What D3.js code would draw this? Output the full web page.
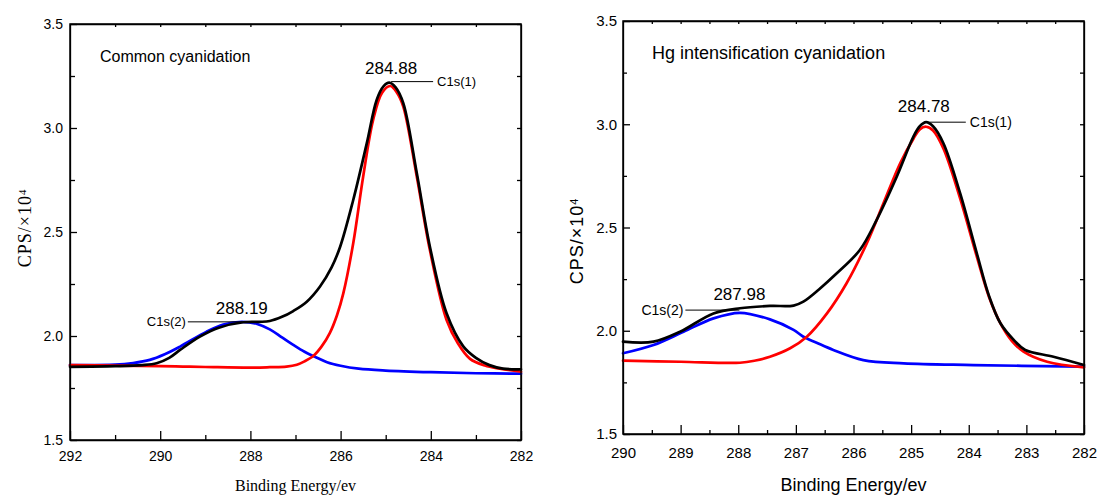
<!DOCTYPE html>
<html>
<head>
<meta charset="utf-8">
<script src="https://cdn.jsdelivr.net/npm/d3@7"></script>
<style>
  body { margin: 0; background: #fff; }
  svg text { fill: #000; }
  .sans { font-family: "Liberation Sans", Arial, sans-serif; }
  .narrow { font-family: "Liberation Sans Narrow", "Arial Narrow", "Liberation Sans", sans-serif; }
  .serif { font-family: "Liberation Serif", "Times New Roman", serif; }
  .axis path, .axis line { stroke: #000; stroke-width: 1.3; }
  .curve { fill: none; stroke-width: 2.7; stroke-linejoin: round; stroke-linecap: round; }
</style>
</head>
<body>
<div id="chart"></div>
<script>
// ---- data (binding energy in eV, CPS x 10^4) ----
var leftBlack = [[292.0,1.852],[291.0,1.855],[290.4,1.860],[290.08,1.869],[289.8,1.895],[289.56,1.933],
  [289.12,1.997],[288.7,2.040],[288.16,2.066],[287.8,2.068],[287.57,2.072],[287.3,2.092],[287.05,2.120],
  [286.75,2.165],[286.46,2.237],[286.2,2.330],[286.01,2.429],[285.72,2.654],[285.42,2.926],[285.20,3.135],
  [285.05,3.200],[284.92,3.218],[284.78,3.195],[284.61,3.119],[284.31,2.782],[284.02,2.429],[283.65,2.109],
  [283.28,1.950],[283.0,1.895],[282.7,1.860],[282.4,1.843],[282.0,1.840]];
var leftRed = [[292.0,1.860],[291.0,1.858],[290.0,1.855],[289.0,1.851],[288.0,1.848],[287.57,1.850],
  [287.2,1.853],[286.97,1.862],[286.8,1.878],[286.60,1.905],[286.42,1.950],[286.24,2.014],[286.08,2.100],
  [285.94,2.205],[285.72,2.446],[285.50,2.766],[285.28,3.038],[285.08,3.170],[284.90,3.202],[284.75,3.170],
  [284.61,3.103],[284.31,2.766],[284.02,2.413],[283.65,2.077],[283.40,1.965],[283.13,1.890],[282.8,1.858],
  [282.47,1.843],[282.0,1.828]];
var leftBlue = [[292.0,1.860],[291.0,1.862],[290.6,1.870],[290.23,1.885],[289.9,1.912],[289.56,1.949],
  [288.97,2.021],[288.6,2.055],[288.19,2.068],[287.85,2.058],[287.57,2.032],[287.3,1.993],[287.05,1.957],
  [286.8,1.924],[286.55,1.898],[286.3,1.874],[286.0,1.857],[285.6,1.843],[285.0,1.834],[284.0,1.826],
  [283.0,1.821],[282.0,1.819]];

var rightBlack = [[290.0,1.947],[289.47,1.947],[289.01,1.995],[288.43,2.084],[287.97,2.109],[287.45,2.120],
  [287.04,2.122],[286.87,2.141],[286.6,2.200],[286.29,2.278],[285.89,2.391],[285.60,2.536],[285.25,2.746],
  [284.96,2.940],[284.85,2.990],[284.74,3.010],[284.62,2.990],[284.44,2.908],[284.15,2.666],[283.86,2.375],
  [283.65,2.170],[283.45,2.036],[283.2,1.950],[283.02,1.907],[282.53,1.874],[282.0,1.834]];
var rightRed = [[290.0,1.855],[289.0,1.850],[287.97,1.845],[287.7,1.856],[287.45,1.874],[287.10,1.915],
  [286.81,1.971],[286.46,2.084],[286.12,2.230],[285.77,2.423],[285.48,2.617],[285.19,2.811],[284.96,2.930],
  [284.85,2.975],[284.74,2.988],[284.62,2.970],[284.44,2.883],[284.15,2.641],[283.86,2.359],[283.65,2.165],
  [283.45,2.036],[283.25,1.950],[283.05,1.899],[282.64,1.850],[282.0,1.823]];
var rightBlue = [[290.0,1.891],[289.47,1.931],[288.95,1.995],[288.43,2.060],[287.97,2.087],[287.45,2.055],
  [287.04,2.004],[286.87,1.971],[286.64,1.942],[286.35,1.907],[285.83,1.858],[285.13,1.842],[283.92,1.834],
  [282.0,1.826]];

var leftXTicks = [292, 290, 288, 286, 284, 282];
var leftXMinor = [291, 289, 287, 285, 283];
var rightXTicks = [290, 289, 288, 287, 286, 285, 284, 283, 282];
var rightXMinor = [289.5, 288.5, 287.5, 286.5, 285.5, 284.5, 283.5, 282.5];
var yTicks = [1.5, 2.0, 2.5, 3.0, 3.5];
var yMinor = [1.75, 2.25, 2.75, 3.25];

var leftPeaks = [
  {pos: 284.88, val: 3.223, text: '284.88', name: 'C1s(1)', side: 'right'},
  {pos: 288.19, val: 2.068, text: '288.19', name: 'C1s(2)', side: 'left'}
];
var rightPeaks = [
  {pos: 284.78, val: 3.010, text: '284.78', name: 'C1s(1)', side: 'right'},
  {pos: 287.98, val: 2.100, text: '287.98', name: 'C1s(2)', side: 'left'}
];

var svg = d3.select('#chart').append('svg')
  .attr('width', 1097)
  .attr('height', 497);

function drawPanel(cfg) {
  var x = d3.scaleLinear().domain(cfg.xDomain).range([cfg.left, cfg.right]);
  var y = d3.scaleLinear().domain([1.5, 3.5]).range([cfg.bottom, cfg.top]);
  var g = svg.append('g');
  var w = cfg.right - cfg.left, h = cfg.bottom - cfg.top;

  // bottom axis, major + minor ticks pointing inward
  var bx = g.append('g').attr('class', 'axis ' + cfg.font)
    .attr('transform', 'translate(0,' + cfg.bottom + ')')
    .call(d3.axisBottom(x).tickValues(cfg.xTicks).tickSizeInner(-cfg.major).tickSizeOuter(0)
      .tickPadding(cfg.xPad).tickFormat(d3.format('d')));
  bx.selectAll('text').style('font-size', cfg.tickFont + 'px');
  g.append('g').attr('class', 'axis')
    .attr('transform', 'translate(0,' + cfg.bottom + ')')
    .call(d3.axisBottom(x).tickValues(cfg.xMinor).tickSize(-cfg.minor).tickFormat(''))
    .select('.domain').remove();

  var ly = g.append('g').attr('class', 'axis ' + cfg.font)
    .attr('transform', 'translate(' + cfg.left + ',0)')
    .call(d3.axisLeft(y).tickValues(yTicks).tickSizeInner(-cfg.major + 2).tickSizeOuter(0)
      .tickPadding(cfg.yPad).tickFormat(d3.format('.1f')));
  ly.selectAll('text').style('font-size', cfg.tickFont + 'px');
  g.append('g').attr('class', 'axis')
    .attr('transform', 'translate(' + cfg.left + ',0)')
    .call(d3.axisLeft(y).tickValues(yMinor).tickSize(-cfg.minor).tickFormat(''))
    .select('.domain').remove();

  // top and right: small ticks only
  g.append('g').attr('class', 'axis')
    .attr('transform', 'translate(0,' + cfg.top + ')')
    .call(d3.axisTop(x).tickValues(cfg.topTicks).tickSizeInner(-3).tickSizeOuter(0).tickFormat(''));
  g.append('g').attr('class', 'axis')
    .attr('transform', 'translate(' + cfg.right + ',0)')
    .call(d3.axisRight(y).tickValues(yTicks.concat(yMinor)).tickSizeInner(-4).tickSizeOuter(0).tickFormat(''));

  var line = d3.line()
    .x(function(d) { return x(d[0]); })
    .y(function(d) { return y(d[1]); })
    .curve(d3.curveCatmullRom.alpha(0.5));

  var curves = [
    {data: cfg.blue, color: '#0000ff'},
    {data: cfg.red, color: '#ff0000'},
    {data: cfg.black, color: '#000000'}
  ];
  g.selectAll('path.curve').data(curves).enter()
    .append('path')
    .attr('class', 'curve')
    .attr('stroke', function(d) { return d.color; })
    .attr('d', function(d) { return line(d.data); });

  // peak annotations
  cfg.peaks.forEach(function(p) {
    var px = x(p.pos), py = y(p.val);
    var len = p.side === 'right' ? 42 : -54;
    g.append('line')
      .attr('x1', px).attr('y1', py)
      .attr('x2', px + len).attr('y2', py)
      .attr('stroke', '#000').attr('stroke-width', 1);
    g.append('text').attr('class', 'narrow')
      .attr('x', px + len + (p.side === 'right' ? 4 : -2))
      .attr('y', py)
      .attr('dy', '0.35em')
      .attr('text-anchor', p.side === 'right' ? 'start' : 'end')
      .style('font-size', cfg.nameFont + 'px')
      .text(p.name);
    g.append('text').attr('class', 'narrow')
      .attr('x', px)
      .attr('y', py - cfg.numGap)
      .attr('text-anchor', 'middle')
      .style('font-size', cfg.numFont + 'px')
      .text(p.text);
  });

  g.append('text').attr('class', 'sans')
    .attr('x', cfg.titleX).attr('y', cfg.top + 38)
    .style('font-size', cfg.titleFont + 'px')
    .text(cfg.title);

  g.append('text').attr('class', cfg.labelFont)
    .attr('x', (cfg.left + cfg.right) / 2).attr('y', 491)
    .attr('text-anchor', 'middle')
    .style('font-size', cfg.xLabelSize + 'px')
    .text('Binding Energy/ev');

  var yl = g.append('text').attr('class', cfg.labelFont)
    .attr('transform', 'translate(' + cfg.yLabelX + ',' + cfg.yLabelY + ') rotate(-90)')
    .attr('text-anchor', 'middle')
    .style('font-size', cfg.yLabelSize + 'px')
    .style('letter-spacing', '1px');
  yl.append('tspan').text('CPS/\u00d710');
  yl.append('tspan').attr('dy', '-0.5em').style('font-size', '0.6em').text('4');

  g.append('rect')
    .attr('x', cfg.left).attr('y', cfg.top)
    .attr('width', w).attr('height', h)
    .attr('fill', 'none').attr('stroke', '#000').attr('stroke-width', 1.5);
}

drawPanel({
  left: 70, right: 521, top: 24, bottom: 440,
  xDomain: [292, 282], xTicks: leftXTicks, xMinor: leftXMinor,
  topTicks: [291, 290, 289, 288, 287, 286, 285, 284, 283],
  major: 9, minor: 5, xPad: 11, yPad: 7, tickFont: 14, font: 'sans',
  black: leftBlack, red: leftRed, blue: leftBlue, peaks: leftPeaks,
  nameFont: 13, numFont: 17, numGap: 8,
  title: 'Common cyanidation', titleX: 100, titleFont: 16,
  labelFont: 'serif', xLabelSize: 16, yLabelSize: 18, yLabelX: 31, yLabelY: 228
});

drawPanel({
  left: 623, right: 1084, top: 21, bottom: 434,
  xDomain: [290, 282], xTicks: rightXTicks, xMinor: rightXMinor,
  topTicks: [289.5, 289, 288.5, 288, 287.5, 287, 286.5, 286, 285.5, 285, 284.5, 284, 283.5, 283, 282.5],
  major: 9, minor: 4, xPad: 13, yPad: 6, tickFont: 15, font: 'sans',
  black: rightBlack, red: rightRed, blue: rightBlue, peaks: rightPeaks,
  nameFont: 14, numFont: 17, numGap: 10,
  title: 'Hg intensification cyanidation', titleX: 652, titleFont: 18,
  labelFont: 'sans', xLabelSize: 18, yLabelSize: 18, yLabelX: 583, yLabelY: 241
});
</script>
</body>
</html>
